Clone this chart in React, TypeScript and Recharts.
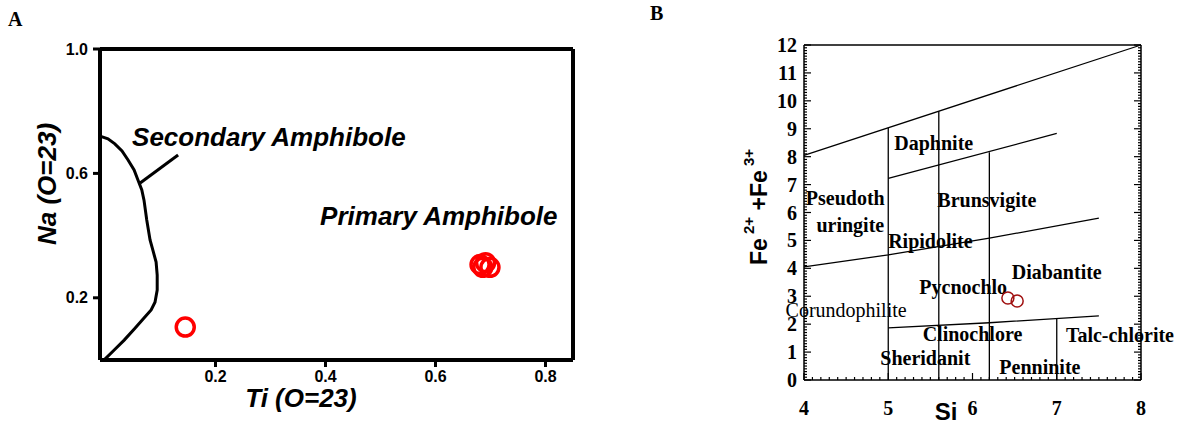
import React from 'react';
import { ScatterChart, Scatter, XAxis, YAxis, ReferenceLine } from 'recharts';

// ---------- Panel A: Ti vs Na (amphibole) ----------
const tiTicks = [0.2, 0.4, 0.6, 0.8];
const naTicks = [0.2, 0.6, 1.0];

const boundaryCurve = [
  { x: -0.01, y: 0.72 }, { x: 0.0045, y: 0.711 }, { x: 0.017, y: 0.695 },
  { x: 0.03, y: 0.672 }, { x: 0.041, y: 0.643 }, { x: 0.052, y: 0.611 },
  { x: 0.059, y: 0.579 }, { x: 0.066, y: 0.547 }, { x: 0.07, y: 0.514 },
  { x: 0.075, y: 0.45 }, { x: 0.081, y: 0.386 }, { x: 0.086, y: 0.354 },
  { x: 0.092, y: 0.315 }, { x: 0.094, y: 0.273 }, { x: 0.094, y: 0.225 },
  { x: 0.09, y: 0.186 }, { x: 0.083, y: 0.161 }, { x: 0.07, y: 0.135 },
  { x: 0.054, y: 0.103 }, { x: 0.034, y: 0.064 }, { x: 0.014, y: 0.029 },
  { x: -0.001, y: 0.003 },
];
const leaderLine = [{ x: 0.063, y: 0.569 }, { x: 0.132, y: 0.659 }];

const amphiboleSamples = [
  { x: 0.145, y: 0.106 },
  { x: 0.681, y: 0.307 },
  { x: 0.691, y: 0.313 },
  { x: 0.699, y: 0.298 },
  { x: 0.686, y: 0.298 },
];
const amphiboleLabels = [
  { x: 0.297, y: 0.717, text: 'Secondary Amphibole' },
  { x: 0.606, y: 0.463, text: 'Primary Amphibole' },
];

// ---------- Panel B: Si vs Fe2+ + Fe3+ (chlorite) ----------
const tenths = (lo: number, hi: number) =>
  Array.from({ length: Math.round((hi - lo) * 10) + 1 }, (_, i) => Math.round((lo * 10 + i)) / 10);
const siMinor = tenths(4, 8);
const feMinor = tenths(0, 12);

const topLine = [{ x: 4, y: 8.05 }, { x: 8, y: 12 }];
const daphniteLine = [{ x: 5, y: 7.22 }, { x: 7, y: 8.83 }];
const ripidoliteLine = [{ x: 4, y: 4.05 }, { x: 5, y: 4.48 }, { x: 6.2, y: 5.08 }, { x: 7.5, y: 5.8 }];
const clinochloreLine = [{ x: 5, y: 1.87 }, { x: 6.2, y: 2.05 }, { x: 7.5, y: 2.3 }];
const vert5 = [{ x: 5, y: 0 }, { x: 5, y: 9.04 }];
const vert56 = [{ x: 5.6, y: 0 }, { x: 5.6, y: 9.63 }];
const vert62 = [{ x: 6.2, y: 0 }, { x: 6.2, y: 8.16 }];
const vert7 = [{ x: 7, y: 0 }, { x: 7, y: 2.22 }];

const chloriteSamples = [{ x: 6.42, y: 2.94 }, { x: 6.53, y: 2.83 }];
const chloriteLabels = [
  { x: 5.54, y: 8.5, text: 'Daphnite', bold: true },
  { x: 4.49, y: 6.52, text: 'Pseudoth', bold: true },
  { x: 4.55, y: 5.54, text: 'uringite', bold: true },
  { x: 6.17, y: 6.46, text: 'Brunsvigite', bold: true },
  { x: 5.5, y: 4.98, text: 'Ripidolite', bold: true },
  { x: 5.89, y: 3.33, text: 'Pycnochlo', bold: true },
  { x: 7.0, y: 3.87, text: 'Diabantite', bold: true },
  { x: 4.5, y: 2.5, text: 'Corundophilite', bold: false },
  { x: 6.0, y: 1.65, text: 'Clinochlore', bold: true },
  { x: 5.44, y: 0.79, text: 'Sheridanit', bold: true },
  { x: 6.8, y: 0.47, text: 'Penninite', bold: true },
  { x: 7.75, y: 1.61, text: 'Talc-chlorite', bold: true },
];

const sans = 'Liberation Sans, Arial, sans-serif';
const serif = 'Liberation Serif, Times New Roman, serif';
const none = () => <g />;
const isInt = (v: number) => Math.abs(v - Math.round(v)) < 1e-6;

// inward ticks for the chlorite frame
const FrameTick = ({ x, y, payload, side, label }: any) => {
  const v = payload.value;
  const len = isInt(v) ? 7 : 3;
  let line;
  if (side === 'bottom') line = <line x1={x} x2={x} y1={y} y2={y - len} stroke="#000" strokeWidth={1.2} />;
  else if (side === 'top') line = <line x1={x} x2={x} y1={y} y2={y + len} stroke="#000" strokeWidth={1.2} />;
  else if (side === 'left') line = <line x1={x} x2={x + len} y1={y} y2={y} stroke="#000" strokeWidth={1.2} />;
  else line = <line x1={x} x2={x - len} y1={y} y2={y} stroke="#000" strokeWidth={1.2} />;
  const showLabel = label && isInt(v);
  return (
    <g>
      {line}
      {showLabel && side === 'bottom' && (
        <text x={x} y={y + 35} textAnchor="middle" fontFamily={serif} fontWeight={700} fontSize={20} fill="#000">{v}</text>
      )}
      {showLabel && side === 'left' && (
        <text x={x - 7} y={y + 7} textAnchor="end" fontFamily={serif} fontWeight={700} fontSize={20} fill="#000">{v}</text>
      )}
    </g>
  );
};

export default function App() {
  return (
    <div style={{ position: 'absolute', left: 0, top: 0, width: 1179, height: 423, background: '#fff', overflow: 'hidden' }}>
      <div style={{ position: 'absolute', left: 8, top: 8, fontFamily: serif, fontWeight: 700, fontSize: 20 }}>A</div>
      <div style={{ position: 'absolute', left: 650, top: 2, fontFamily: serif, fontWeight: 700, fontSize: 20 }}>B</div>

      <div style={{ position: 'absolute', left: 0, top: 0 }}>
        <ScatterChart width={600} height={423} margin={{ top: 49, right: 27, bottom: 23, left: 0 }}>
          <XAxis
            type="number" dataKey="x" domain={[-0.01, 0.85]} ticks={tiTicks} interval={0}
            height={40}
            tickFormatter={(v: number) => v.toFixed(1)}
            axisLine={{ stroke: '#000', strokeWidth: 4 }}
            tickLine={{ stroke: '#000', strokeWidth: 3 }} tickSize={7} tickMargin={4}
            tick={{ fontFamily: sans, fontWeight: 700, fontSize: 16, fill: '#000' }}
            label={{
              content: ({ viewBox }: any) => (
                <text x={viewBox.x + 201} y={viewBox.y + 47} textAnchor="middle"
                  fontFamily={sans} fontWeight={700} fontStyle="italic" fontSize={26} fill="#000">Ti (O=23)</text>
              ),
            }}
          />
          <YAxis
            type="number" dataKey="y" domain={[0, 1]} ticks={naTicks} interval={0}
            width={100}
            tickFormatter={(v: number) => v.toFixed(1)}
            axisLine={{ stroke: '#000', strokeWidth: 4 }}
            tickLine={{ stroke: '#000', strokeWidth: 3 }} tickSize={7} tickMargin={5}
            tick={{ fontFamily: sans, fontWeight: 700, fontSize: 16, fill: '#000' }}
            label={{
              content: () => (
                <text x={0} y={0} transform="translate(56,184) rotate(-90)" textAnchor="middle"
                  fontFamily={sans} fontWeight={700} fontStyle="italic" fontSize={26} fill="#000">Na (O=23)</text>
              ),
            }}
          />
          <ReferenceLine y={1} stroke="#000" strokeWidth={4} ifOverflow="extendDomain" />
          <ReferenceLine x={0.85} stroke="#000" strokeWidth={4} ifOverflow="extendDomain" />
          <Scatter data={boundaryCurve} line={{ stroke: '#000', strokeWidth: 3 }} lineType="joint" shape={none} isAnimationActive={false} />
          <Scatter data={leaderLine} line={{ stroke: '#000', strokeWidth: 3 }} lineType="joint" shape={none} isAnimationActive={false} />
          <Scatter
            data={amphiboleSamples} isAnimationActive={false}
            shape={(p: any) => <circle cx={p.cx} cy={p.cy} r={9} fill="none" stroke="#ff0000" strokeWidth={3.5} />}
          />
          <Scatter
            data={amphiboleLabels} isAnimationActive={false}
            shape={(p: any) => (
              <text x={p.cx} y={p.cy} textAnchor="middle" dominantBaseline="central"
                fontFamily={sans} fontWeight={700} fontStyle="italic" fontSize={26} fill="#000">{p.payload.text}</text>
            )}
          />
        </ScatterChart>
      </div>

      <div style={{ position: 'absolute', left: 600, top: 0 }}>
        <ScatterChart width={579} height={423} margin={{ top: 45, right: 38, bottom: 3, left: 0 }}>
          <XAxis
            xAxisId="b" orientation="bottom" type="number" dataKey="x" domain={[4, 8]} ticks={siMinor} interval={0}
            height={40} tickSize={0} tickMargin={0} tickLine={false}
            axisLine={{ stroke: '#000', strokeWidth: 1.5 }}
            tick={(p: any) => <FrameTick {...p} side="bottom" label />}
            label={{
              content: ({ viewBox }: any) => (
                <text x={viewBox.x + 142} y={viewBox.y + 40} textAnchor="middle"
                  fontFamily={sans} fontWeight={700} fontSize={24} fill="#000">Si</text>
              ),
            }}
          />
          <XAxis
            xAxisId="t" orientation="top" mirror type="number" domain={[4, 8]} ticks={siMinor} interval={0}
            allowDataOverflow height={30} tickSize={0} tickMargin={0} tickLine={false}
            axisLine={{ stroke: '#000', strokeWidth: 1.5 }}
            tick={(p: any) => <FrameTick {...p} side="top" />}
          />
          <YAxis
            yAxisId="l" orientation="left" type="number" dataKey="y" domain={[0, 12]} ticks={feMinor} interval={0}
            width={204} tickSize={0} tickMargin={0} tickLine={false}
            axisLine={{ stroke: '#000', strokeWidth: 1.5 }}
            tick={(p: any) => <FrameTick {...p} side="left" label />}
            label={{
              content: () => (
                <text x={0} y={0} transform="translate(167,207) rotate(-90)" textAnchor="middle"
                  fontFamily={sans} fontWeight={700} fill="#000">
                  <tspan fontSize={23}>Fe</tspan>
                  <tspan fontSize={15} dy={-13}> 2+</tspan>
                  <tspan fontSize={23} dy={13}> +Fe</tspan>
                  <tspan fontSize={15} dy={-13}> 3+</tspan>
                </text>
              ),
            }}
          />
          <YAxis
            yAxisId="r" orientation="right" mirror type="number" domain={[0, 12]} ticks={feMinor} interval={0}
            allowDataOverflow width={30} tickSize={0} tickMargin={0} tickLine={false}
            axisLine={{ stroke: '#000', strokeWidth: 1.5 }}
            tick={(p: any) => <FrameTick {...p} side="right" />}
          />
          {[topLine, daphniteLine, ripidoliteLine, clinochloreLine, vert5, vert56, vert62, vert7].map((seg, i) => (
            <Scatter key={i} xAxisId="b" yAxisId="l" data={seg} line={{ stroke: '#000', strokeWidth: 1.3 }}
              lineType="joint" shape={none} isAnimationActive={false} />
          ))}
          <Scatter
            xAxisId="b" yAxisId="l" data={chloriteLabels} isAnimationActive={false}
            shape={(p: any) => (
              <text x={p.cx} y={p.cy} textAnchor="middle" dominantBaseline="central"
                fontFamily={serif} fontWeight={p.payload.bold ? 700 : 400} fontSize={20} fill="#000">{p.payload.text}</text>
            )}
          />
          <Scatter
            xAxisId="b" yAxisId="l" data={chloriteSamples} isAnimationActive={false}
            shape={(p: any) => <circle cx={p.cx} cy={p.cy} r={6} fill="none" stroke="#a01010" strokeWidth={1.5} />}
          />
        </ScatterChart>
      </div>
    </div>
  );
}
